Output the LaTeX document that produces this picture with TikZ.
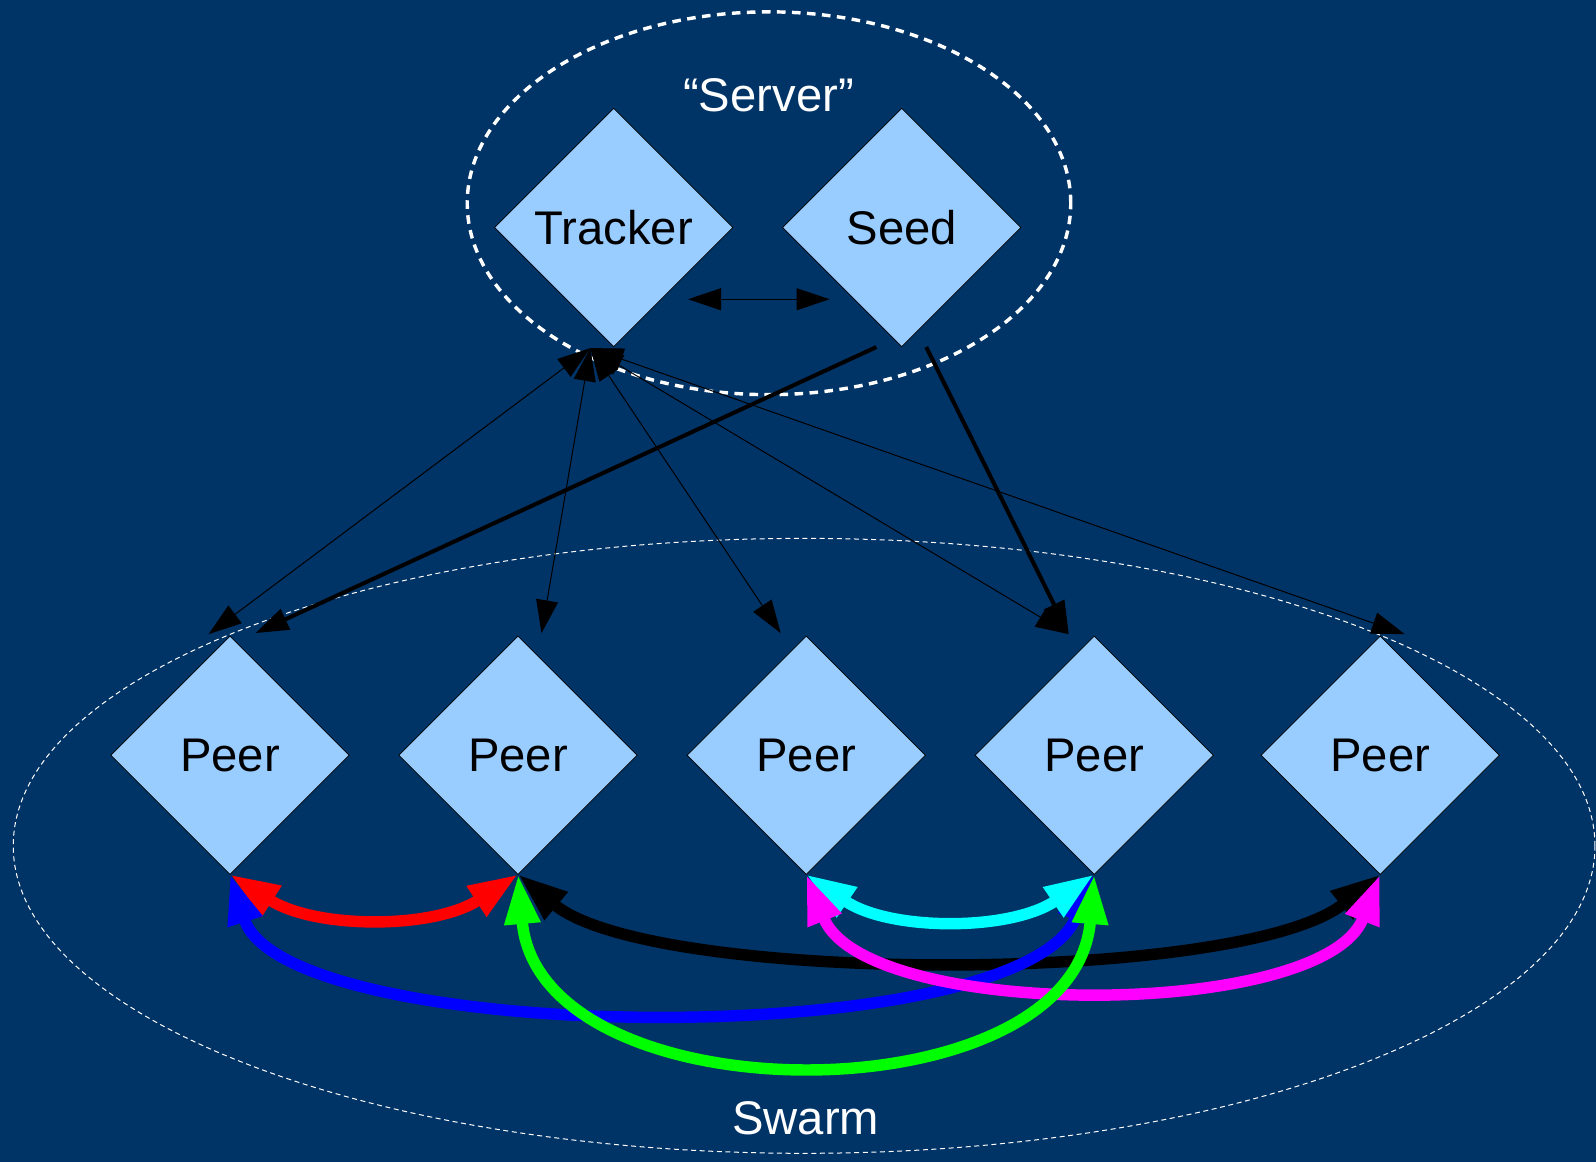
\documentclass[tikz,border=0pt]{standalone}
\usepackage{fontspec}
\setmainfont{Liberation Sans}
\usetikzlibrary{shapes.geometric,arrows.meta}
\definecolor{bg}{RGB}{0,51,102}
\definecolor{boxfill}{RGB}{153,204,255}
\definecolor{pcyan}{RGB}{0,255,255}
\definecolor{pmagenta}{RGB}{255,0,255}
\definecolor{pgreen}{RGB}{0,255,0}
\definecolor{pred}{RGB}{255,0,0}
\definecolor{pblue}{RGB}{0,0,255}
\begin{document}
\begin{tikzpicture}[x=0.025cm,y=-0.025cm,
  dia/.style={diamond, aspect=1, minimum width=5.85cm, minimum height=5.85cm,
    inner sep=0pt, outer sep=0pt, fill=boxfill, draw=black, line width=0.5pt,
    font=\fontsize{33}{40}\selectfont, text=black},
  thinarr/.style={draw=black, line width=0.7pt,
    {Triangle[length=0.81cm,width=0.54cm]}-{Triangle[length=0.81cm,width=0.54cm]}},
  seedarr/.style={draw=black, line width=2.8pt, -{Triangle[length=0.81cm,width=0.54cm]}},
  peerarr/.style={line width=8pt,
    {Triangle[length=1.22cm,width=0.82cm]}-{Triangle[length=1.22cm,width=0.82cm]}},
  lbl/.style={text=white, font=\fontsize{33}{40}\selectfont, inner sep=0pt, anchor=base}
]
\fill[bg] (0,0) rectangle (1568,1142);
\useasboundingbox (0,0) rectangle (1568,1142);

% group outlines
\draw[white, line width=2.4pt, dash pattern=on 6pt off 4.5pt]
  (755.5,199.7) ellipse [x radius=7.41cm, y radius=4.7cm];
\draw[white, line width=0.7pt, dash pattern=on 3.5pt off 2.5pt]
  (790,831) ellipse [x radius=19.42cm, y radius=7.55cm];

% labels
\node[lbl] (server) at (755,109.7) {“Server”};
\node[lbl] (swarm) at (791.5,1115) {Swarm};

% nodes
\node[dia] (tracker) at (603,223.5) {Tracker};
\node[dia] (seed) at (886,223.5) {Seed};
\node[dia] (p1) at (226,742) {Peer};
\node[dia] (p2) at (509,742) {Peer};
\node[dia] (p3) at (792,742) {Peer};
\node[dia] (p4) at (1075,742) {Peer};
\node[dia] (p5) at (1356,742) {Peer};

% connector end points
\coordinate (ta) at (676,294);
\coordinate (sa) at (815,294);
\coordinate (tb) at (580,342);
\coordinate (e1) at (205,623);
\coordinate (e2) at (532,622);
\coordinate (e3) at (767,622);
\coordinate (e4) at (1050,623);
\coordinate (e5) at (1380,623);
\coordinate (s1) at (861,341);
\coordinate (s2) at (910,341);
\coordinate (f1) at (251,622);

% tracker <-> seed
\draw[thinarr] (ta) -- (sa);

% tracker <-> peers
\draw[thinarr] (tb) -- (e1);
\draw[thinarr] (tb) -- (e2);
\draw[thinarr] (tb) -- (e3);
\draw[thinarr] (tb) -- (e4);
\draw[thinarr] (tb) -- (e5);

% seed -> peers
\draw[seedarr] (s1) -- (f1);
\draw[seedarr] (s2) -- (e4);

% peer <-> peer
\draw[peerarr, black] (p2.south) .. controls (640,968) and (1220,968) .. (p5.south);
\draw[peerarr, pred] (p1.south) .. controls (310,913) and (426,913) .. (p2.south);
\draw[peerarr, pblue] (p1.south) .. controls (280,1028) and (1000,1036) .. (p4.south);
\draw[peerarr, pcyan] (p3.south) .. controls (874,915) and (993,915) .. (p4.south);
\draw[peerarr, pmagenta] (p3.south) .. controls (850,1003) and (1300,1003) .. (p5.south);
\draw[peerarr, pgreen] (p2.south) .. controls (530,1100) and (1055,1100) .. (p4.south);
\end{tikzpicture}
\end{document}
